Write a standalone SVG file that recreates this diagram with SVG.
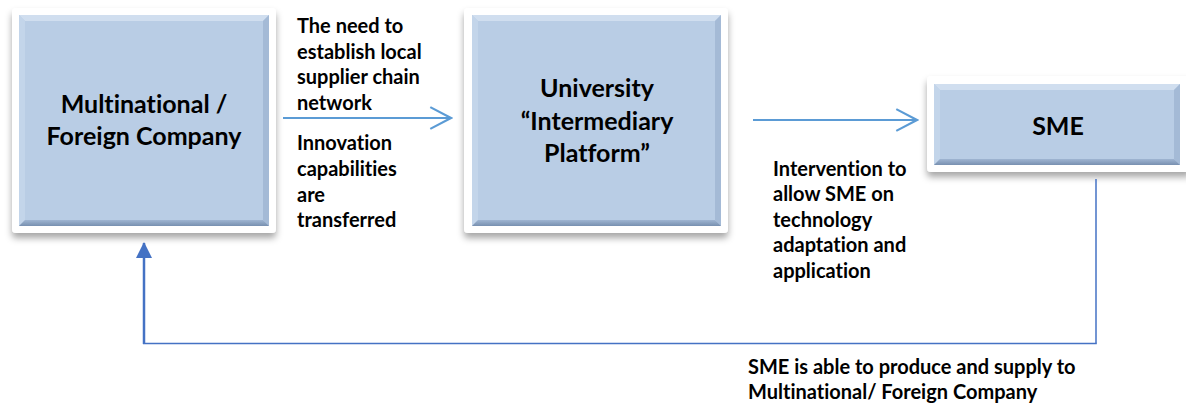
<svg xmlns="http://www.w3.org/2000/svg" width="1186" height="405" viewBox="0 0 1186 405">
<defs>
<filter id="sh" x="-10%" y="-10%" width="120%" height="130%">
<feDropShadow dx="0" dy="5" stdDeviation="3.5" flood-color="#000" flood-opacity="0.35"/>
</filter>
<linearGradient id="gb" x1="0" y1="0" x2="0" y2="1">
<stop offset="0" stop-color="#9FB5D2"/>
<stop offset="1" stop-color="#7890B0"/>
</linearGradient>
<marker id="chev" markerUnits="userSpaceOnUse" markerWidth="24" markerHeight="24" viewBox="0 0 22 22" refX="20" refY="11" orient="auto">
<path d="M1,1 L20,11 L1,21" fill="none" stroke="#5B9BD5" stroke-width="2"/>
</marker>
<marker id="tri" markerUnits="userSpaceOnUse" markerWidth="16" markerHeight="16" viewBox="0 0 16 16" refX="15" refY="8" orient="auto">
<path d="M0,0 L16,8 L0,16 z" fill="#4472C4"/>
</marker>
</defs>
<style>
.frame{fill:#fff;filter:url(#sh)}
.face{fill:#B9CDE5}
.bt{fill:#D0DEEF}
.bl{fill:#C3D5EA}
.br{fill:#A4BAD6}
.bb{fill:url(#gb)}
.t{font-family:Lato,"Liberation Sans",sans-serif;font-weight:700;fill:#000;font-variant-ligatures:none}
.s{font-size:20px}
.b{font-size:25px;text-anchor:middle}
.c1{fill:none;stroke:#5B9BD5;stroke-width:2}
.c2{fill:none;stroke:#4472C4}
</style>
<rect width="1186" height="405" fill="#fff"/>
<g id="node-multinational">
<rect class="frame" x="12" y="8" width="264" height="225" rx="4"/>
<rect class="face" x="19" y="15" width="250" height="211"/>
<path class="bt" d="M19,15 H269 L263,21 H25 Z"/>
<path class="bl" d="M19,15 L25,21 V220 L19,226 Z"/>
<path class="br" d="M269,15 V226 L263,220 V21 Z"/>
<path class="bb" d="M19,226 L25,220 H263 L269,226 Z"/>
<text class="t b" x="144" y="113">Multinational /</text>
<text class="t b" x="144" y="145">Foreign Company</text>
</g>
<g id="node-university">
<rect class="frame" x="464" y="8" width="264" height="225" rx="4"/>
<rect class="face" x="472" y="15" width="249" height="211"/>
<path class="bt" d="M472,15 H721 L715,21 H478 Z"/>
<path class="bl" d="M472,15 L478,21 V220 L472,226 Z"/>
<path class="br" d="M721,15 V226 L715,220 V21 Z"/>
<path class="bb" d="M472,226 L478,220 H715 L721,226 Z"/>
<text class="t b" x="597" y="97">University</text>
<text class="t b" x="597" y="129.5">“Intermediary</text>
<text class="t b" x="597" y="162">Platform”</text>
</g>
<g id="node-sme">
<rect class="frame" x="927" y="76" width="264" height="96" rx="4"/>
<rect class="face" x="934" y="84" width="246" height="81"/>
<path class="bt" d="M934,84 H1180 L1174,90 H940 Z"/>
<path class="bl" d="M934,84 L940,90 V159 L934,165 Z"/>
<path class="br" d="M1180,84 V165 L1174,159 V90 Z"/>
<path class="bb" d="M934,165 L940,159 H1174 L1180,165 Z"/>
<text class="t b" x="1058" y="135">SME</text>
</g>
<g id="connectors">
<path class="c1" d="M283,118 H451" marker-end="url(#chev)"/>
<path class="c1" d="M753,120 H917" marker-end="url(#chev)"/>
<path class="c2" stroke="#5B9BD5" stroke-width="1.5" d="M1096,179 V343.5"/>
<path class="c2" stroke-width="1.5" d="M1096.75,343.5 H143"/>
<path class="c2" stroke-width="2.5" d="M144,344 V243" marker-end="url(#tri)"/>
</g>
<g id="labels">
<text class="t s" x="297" y="33">The need to</text>
<text class="t s" x="297" y="58.5">establish local</text>
<text class="t s" x="297" y="84">supplier chain</text>
<text class="t s" x="297" y="109.5">network</text>
<text class="t s" x="297" y="150">Innovation</text>
<text class="t s" x="297" y="176">capabilities</text>
<text class="t s" x="297" y="201.5">are</text>
<text class="t s" x="297" y="227">transferred</text>
<text class="t s" x="773" y="175.5">Intervention to</text>
<text class="t s" x="773" y="201">allow SME on</text>
<text class="t s" x="773" y="226.5">technology</text>
<text class="t s" x="773" y="252">adaptation and</text>
<text class="t s" x="773" y="277.5">application</text>
<text class="t s" x="748" y="374">SME is able to produce and supply to</text>
<text class="t s" x="748" y="399">Multinational/ Foreign Company</text>
</g>
</svg>
